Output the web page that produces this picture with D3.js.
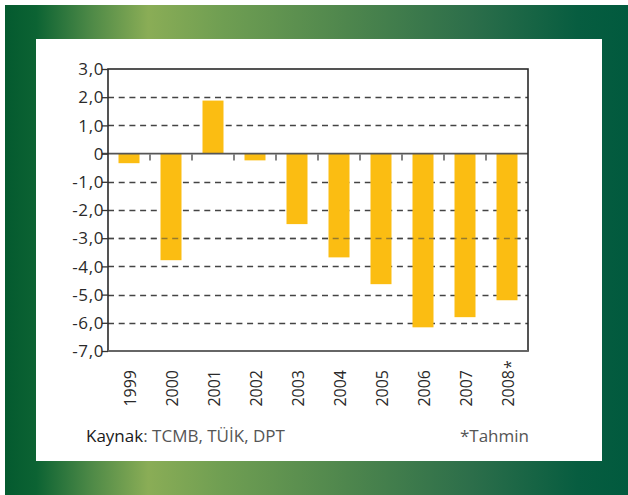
<!DOCTYPE html>
<html>
<head>
<meta charset="utf-8">
<script src="https://cdn.jsdelivr.net/npm/d3@7"></script>
<style>
  body { margin: 0; background: #fff; }
  svg { display: block; font-family: "Open Sans", sans-serif; }
</style>
</head>
<body>
<svg id="chart" width="628" height="495"></svg>
<script>
const years = ["1999", "2000", "2001", "2002", "2003", "2004", "2005", "2006", "2007", "2008"];
const values = [-0.34, -3.78, 1.88, -0.24, -2.5, -3.68, -4.63, -6.16, -5.8, -5.2];
const estimateYears = ["2008"];
const yTicks = [3, 2, 1, 0, -1, -2, -3, -4, -5, -6, -7];
const gridOnTop = [-3];

const svg = d3.select("#chart");

const plot = { left: 108, right: 528, top: 69, bottom: 351 };

function fmt(d) {
  if (d === 0) return "0";
  return (d < 0 ? "-" : "") + Math.abs(d).toFixed(1).replace(".", ",");
}

// green frame
const defs = svg.append("defs");
const grad = defs.append("linearGradient")
  .attr("id", "frameGrad")
  .attr("x1", "0%").attr("x2", "100%")
  .attr("y1", "0%").attr("y2", "0%");

grad.selectAll("stop")
  .data([
    [0, "#045a2f"],
    [0.05, "#0c6333"],
    [0.14, "#4f8a47"],
    [0.23, "#8aad56"],
    [0.35, "#6f9e52"],
    [0.55, "#4e864d"],
    [0.75, "#2c6e4a"],
    [0.92, "#075d40"],
    [1, "#015a3e"]
  ])
  .enter()
  .append("stop")
  .attr("offset", d => d[0])
  .attr("stop-color", d => d[1]);

svg.append("rect")
  .attr("x", 5)
  .attr("y", 5)
  .attr("width", 623)
  .attr("height", 490)
  .attr("fill", "url(#frameGrad)");

svg.append("rect")
  .attr("x", 36)
  .attr("y", 39)
  .attr("width", 566)
  .attr("height", 422)
  .attr("fill", "white");

// scales
const x = d3.scaleBand()
  .domain(years)
  .range([plot.left, plot.right])
  .paddingInner(0.5)
  .paddingOuter(0.25);

const xEdges = d3.scaleBand()
  .domain(years)
  .range([plot.left, plot.right]);

const y = d3.scaleLinear()
  .domain([-7, 3])
  .range([plot.bottom, plot.top]);

// grid lines
const gridVals = yTicks.filter(d => d !== 0 && d !== 3 && d !== -7);

svg.append("g")
  .selectAll("line")
  .data(gridVals)
  .enter()
  .append("line")
  .attr("x1", plot.left)
  .attr("x2", plot.right)
  .attr("y1", d => Math.round(y(d)) + 0.5)
  .attr("y2", d => Math.round(y(d)) + 0.5)
  .attr("stroke", "#444")
  .attr("stroke-width", 1.3)
  .attr("stroke-dasharray", "6,4.7");

// bars
svg.append("g")
  .selectAll("rect")
  .data(years)
  .enter()
  .append("rect")
  .attr("x", d => x(d))
  .attr("width", x.bandwidth())
  .attr("y", (d, i) => y(Math.max(0, values[i])))
  .attr("height", (d, i) => Math.abs(y(values[i]) - y(0)))
  .attr("fill", "#fbbd12");

svg.append("g")
  .selectAll("line")
  .data(gridOnTop)
  .enter()
  .append("line")
  .attr("x1", plot.left)
  .attr("x2", plot.right)
  .attr("y1", d => Math.round(y(d)) + 0.5)
  .attr("y2", d => Math.round(y(d)) + 0.5)
  .attr("stroke", "#444")
  .attr("stroke-width", 1.3)
  .attr("stroke-opacity", 0.55)
  .attr("stroke-dasharray", "6,4.7");

// zero line and x ticks
svg.append("line")
  .attr("x1", plot.left - 6)
  .attr("x2", plot.right)
  .attr("y1", y(0))
  .attr("y2", y(0))
  .attr("stroke", "#555")
  .attr("stroke-width", 1.8);

svg.append("g")
  .selectAll("line")
  .data(years.slice(1))
  .enter()
  .append("line")
  .attr("x1", d => xEdges(d))
  .attr("x2", d => xEdges(d))
  .attr("y1", y(0) + 1)
  .attr("y2", y(0) + 7)
  .attr("stroke", "#333")
  .attr("stroke-width", 1.2);

// frame of plot
svg.append("rect")
  .attr("x", plot.left)
  .attr("y", plot.top)
  .attr("width", plot.right - plot.left)
  .attr("height", plot.bottom - plot.top)
  .attr("fill", "none")
  .attr("stroke", "#2a2a2a")
  .attr("stroke-width", 1.6);

svg.append("line")
  .attr("x1", plot.left)
  .attr("x2", plot.right)
  .attr("y1", plot.bottom)
  .attr("y2", plot.bottom)
  .attr("stroke", "#666")
  .attr("stroke-width", 2.2);

// y axis
const yAxis = svg.append("g")
  .attr("transform", "translate(" + plot.left + ",0)")
  .call(d3.axisLeft(y)
    .tickValues(yTicks)
    .tickSize(6)
    .tickPadding(-2)
    .tickFormat(fmt));

yAxis.select(".domain").remove();
yAxis.selectAll(".tick line")
  .attr("stroke", "#333")
  .attr("stroke-width", 1.3);
yAxis.selectAll(".tick text")
  .attr("font-family", "Open Sans, sans-serif")
  .attr("font-size", "17px")
  .attr("letter-spacing", "0.6px")
  .attr("dy", "0.34em")
  .attr("fill", "#2a2a2a");

// x labels (rotated)
svg.append("g")
  .selectAll("text")
  .data(years)
  .enter()
  .append("text")
  .attr("transform", d => "translate(" + (xEdges(d) + xEdges.bandwidth() / 2 + 1) + ",370) rotate(-90)")
  .attr("text-anchor", "end")
  .attr("dy", "0.36em")
  .attr("font-size", "16px")
  .attr("fill", "#2a2a2a")
  .text(d => d);

svg.append("g")
  .selectAll("text")
  .data(estimateYears)
  .enter()
  .append("text")
  .attr("transform", d => "translate(" + (xEdges(d) + xEdges.bandwidth() / 2 + 1) + ",369) rotate(-90)")
  .attr("text-anchor", "start")
  .attr("dy", "0.5em")
  .attr("font-size", "16px")
  .attr("fill", "#2a2a2a")
  .text("*");

// footer
const source = svg.append("text")
  .attr("x", 86)
  .attr("y", 442)
  .attr("font-size", "17px");

source.append("tspan")
  .attr("fill", "#1a1a1a")
  .text("Kaynak");

source.append("tspan")
  .attr("fill", "#555")
  .text(": TCMB, TÜİK, DPT");

svg.append("text")
  .attr("x", 529)
  .attr("y", 442)
  .attr("text-anchor", "end")
  .attr("font-size", "17px")
  .attr("fill", "#555")
  .text("*Tahmin");
</script>
</body>
</html>
